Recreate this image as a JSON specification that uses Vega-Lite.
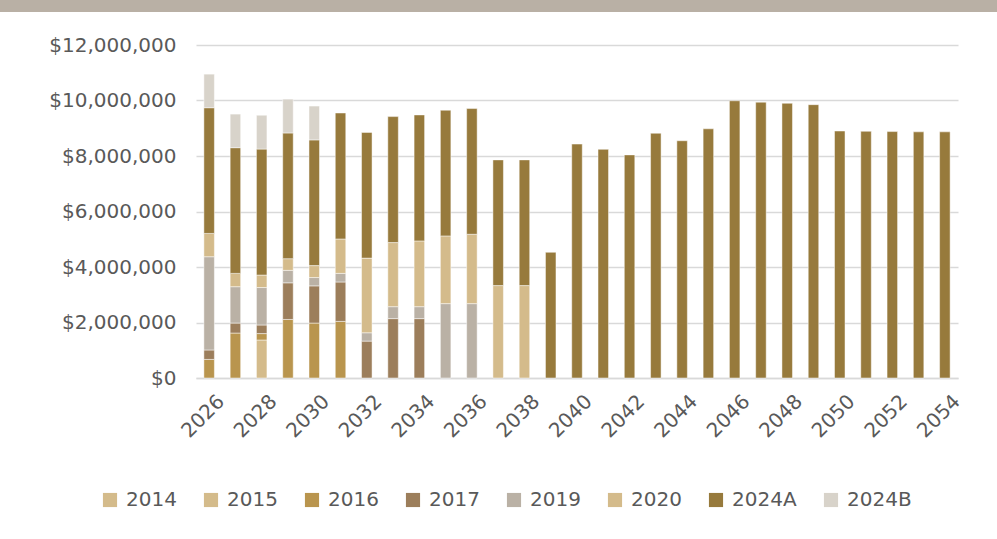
{
  "$schema": "https://vega.github.io/schema/vega-lite/v6.json",
  "padding": 0,
  "autosize": {"type": "pad"},
  "background": "white",
  "config": {"view": {"stroke": null}, "font": "DejaVu Sans"},
  "spacing": 33,
  "bounds": "flush",
  "vconcat": [
    {
      "width": 997,
      "height": 12,
      "data": {"values": [{}]},
      "mark": {"type": "text"},
      "encoding": {"text": {"value": ""}},
      "view": {"fill": "#b9b0a5", "stroke": null}
    },
    {
      "spacing": 0,
      "bounds": "flush",
      "hconcat": [
        {
          "width": 196,
          "height": 333,
          "data": {"values": [{}]},
          "mark": {"type": "text"},
          "encoding": {"text": {"value": ""}}
        },
        {
          "width": 762,
          "height": 333,
          "data": {
            "values": [
              {"year": "2026", "series": "2016", "value": 670000},
              {"year": "2026", "series": "2017", "value": 340000},
              {"year": "2026", "series": "2019", "value": 3360000},
              {"year": "2026", "series": "2020", "value": 840000},
              {"year": "2026", "series": "2024A", "value": 4530000},
              {"year": "2026", "series": "2024B", "value": 1210000},
              {"year": "2027", "series": "2016", "value": 1620000},
              {"year": "2027", "series": "2017", "value": 360000},
              {"year": "2027", "series": "2019", "value": 1310000},
              {"year": "2027", "series": "2020", "value": 480000},
              {"year": "2027", "series": "2024A", "value": 4530000},
              {"year": "2027", "series": "2024B", "value": 1210000},
              {"year": "2028", "series": "2015", "value": 1370000},
              {"year": "2028", "series": "2016", "value": 230000},
              {"year": "2028", "series": "2017", "value": 310000},
              {"year": "2028", "series": "2019", "value": 1350000},
              {"year": "2028", "series": "2020", "value": 450000},
              {"year": "2028", "series": "2024A", "value": 4540000},
              {"year": "2028", "series": "2024B", "value": 1220000},
              {"year": "2029", "series": "2016", "value": 2110000},
              {"year": "2029", "series": "2017", "value": 1320000},
              {"year": "2029", "series": "2019", "value": 450000},
              {"year": "2029", "series": "2020", "value": 420000},
              {"year": "2029", "series": "2024A", "value": 4530000},
              {"year": "2029", "series": "2024B", "value": 1220000},
              {"year": "2030", "series": "2016", "value": 1980000},
              {"year": "2030", "series": "2017", "value": 1340000},
              {"year": "2030", "series": "2019", "value": 300000},
              {"year": "2030", "series": "2020", "value": 430000},
              {"year": "2030", "series": "2024A", "value": 4530000},
              {"year": "2030", "series": "2024B", "value": 1220000},
              {"year": "2031", "series": "2016", "value": 2040000},
              {"year": "2031", "series": "2017", "value": 1420000},
              {"year": "2031", "series": "2019", "value": 310000},
              {"year": "2031", "series": "2020", "value": 1240000},
              {"year": "2031", "series": "2024A", "value": 4540000},
              {"year": "2032", "series": "2017", "value": 1330000},
              {"year": "2032", "series": "2019", "value": 300000},
              {"year": "2032", "series": "2020", "value": 2690000},
              {"year": "2032", "series": "2024A", "value": 4530000},
              {"year": "2033", "series": "2017", "value": 2140000},
              {"year": "2033", "series": "2019", "value": 430000},
              {"year": "2033", "series": "2020", "value": 2310000},
              {"year": "2033", "series": "2024A", "value": 4540000},
              {"year": "2034", "series": "2017", "value": 2140000},
              {"year": "2034", "series": "2019", "value": 430000},
              {"year": "2034", "series": "2020", "value": 2370000},
              {"year": "2034", "series": "2024A", "value": 4540000},
              {"year": "2035", "series": "2019", "value": 2680000},
              {"year": "2035", "series": "2020", "value": 2440000},
              {"year": "2035", "series": "2024A", "value": 4530000},
              {"year": "2036", "series": "2019", "value": 2680000},
              {"year": "2036", "series": "2020", "value": 2500000},
              {"year": "2036", "series": "2024A", "value": 4530000},
              {"year": "2037", "series": "2020", "value": 3330000},
              {"year": "2037", "series": "2024A", "value": 4530000},
              {"year": "2038", "series": "2020", "value": 3330000},
              {"year": "2038", "series": "2024A", "value": 4530000},
              {"year": "2039", "series": "2024A", "value": 4530000},
              {"year": "2040", "series": "2024A", "value": 8430000},
              {"year": "2041", "series": "2024A", "value": 8240000},
              {"year": "2042", "series": "2024A", "value": 8040000},
              {"year": "2043", "series": "2024A", "value": 8820000},
              {"year": "2044", "series": "2024A", "value": 8550000},
              {"year": "2045", "series": "2024A", "value": 8980000},
              {"year": "2046", "series": "2024A", "value": 9990000},
              {"year": "2047", "series": "2024A", "value": 9940000},
              {"year": "2048", "series": "2024A", "value": 9900000},
              {"year": "2049", "series": "2024A", "value": 9850000},
              {"year": "2050", "series": "2024A", "value": 8900000},
              {"year": "2051", "series": "2024A", "value": 8890000},
              {"year": "2052", "series": "2024A", "value": 8880000},
              {"year": "2053", "series": "2024A", "value": 8870000},
              {"year": "2054", "series": "2024A", "value": 8870000}
            ]
          },
          "mark": {"type": "bar", "stroke": "#ffffff", "strokeWidth": 0.6, "strokeOpacity": 0.8},
          "encoding": {
            "x": {
              "field": "year",
              "type": "ordinal",
              "scale": {"paddingInner": 0.6, "paddingOuter": 0.3},
              "axis": {
                "title": null,
                "values": ["2026","2028","2030","2032","2034","2036","2038","2040","2042","2044","2046","2048","2050","2052","2054"],
                "labelAngle": -45,
                "labelFontSize": 20,
                "labelColor": "#595959",
                "labelFont": "DejaVu Sans",
                "labelPadding": 13,
                "labelOffset": 5,
                "ticks": false,
                "domainColor": "#d9d9d9",
                "domainWidth": 1.5
              }
            },
            "y": {
              "field": "value",
              "type": "quantitative",
              "stack": "zero",
              "scale": {"domain": [0, 12000000], "nice": false},
              "axis": {
                "title": null,
                "values": [0, 2000000, 4000000, 6000000, 8000000, 10000000, 12000000],
                "format": "$,.0f",
                "labelFontSize": 20,
                "labelColor": "#595959",
                "labelFont": "DejaVu Sans",
                "labelPadding": 20,
                "ticks": false,
                "domain": false,
                "gridColor": "#d9d9d9",
                "gridWidth": 1.5
              }
            },
            "order": {"field": "series", "type": "ordinal", "sort": "ascending"},
            "color": {
              "field": "series",
              "type": "nominal",
              "scale": {
                "domain": ["2014", "2015", "2016", "2017", "2019", "2020", "2024A", "2024B"],
                "range": ["#d4bb8b", "#d4bb8b", "#b9954e", "#9c7e5b", "#bab1a5", "#d4bb8b", "#977a3c", "#d8d3ca"]
              },
              "legend": {
                "orient": "none",
                "legendX": 100,
                "legendY": 490,
                "direction": "horizontal",
                "title": null,
                "symbolType": "square",
                "symbolSize": 200,
                "symbolStrokeWidth": 0,
                "labelFontSize": 20,
                "labelColor": "#595959",
                "labelFont": "DejaVu Sans",
                "labelOffset": 6,
                "columnPadding": 24
              }
            }
          }
        }
      ]
    }
  ]
}
